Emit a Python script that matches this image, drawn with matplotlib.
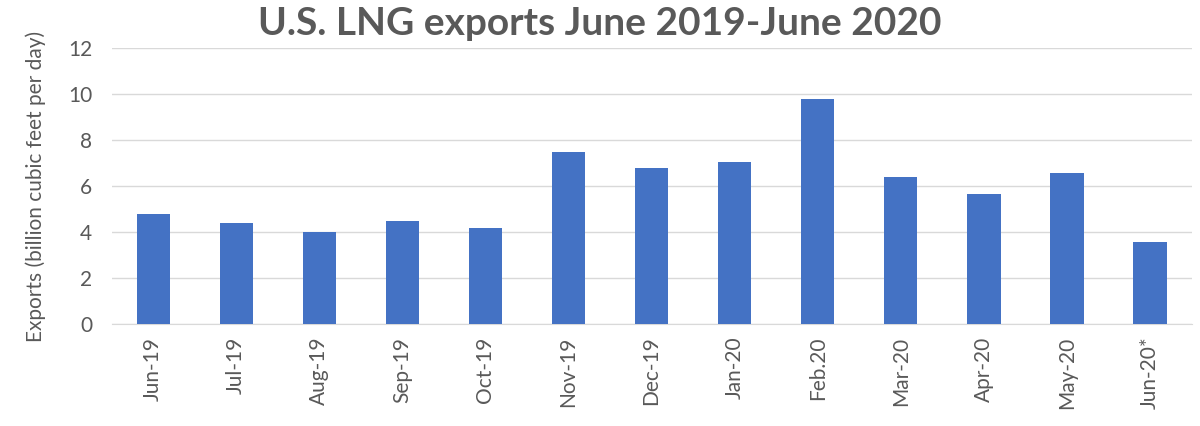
import matplotlib.pyplot as plt
import numpy as np

months = ["Jun-19", "Jul-19", "Aug-19", "Sep-19", "Oct-19", "Nov-19", "Dec-19",
          "Jan-20", "Feb.20", "Mar-20", "Apr-20", "May-20", "Jun-20*"]
exports = [4.8, 4.4, 4.0, 4.5, 4.2, 7.5, 6.8, 7.05, 9.8, 6.4, 5.66, 6.58, 3.58]

plt.rcParams['font.family'] = ['Lato', 'DejaVu Sans']

fig = plt.figure(figsize=(12, 4.26), dpi=100)
ax = fig.add_axes([0.093, 0.239, 0.9, 0.648])

x = np.arange(len(months))
ax.bar(x, exports, width=0.4, color="#4472c4", zorder=3)

ax.set_xlim(-0.5, len(months) - 0.5)
ax.set_ylim(0, 12)
ax.set_yticks(range(0, 13, 2))
ax.set_xticks(x)
ax.set_xticklabels(months, rotation=90)
ax.grid(axis='y', color="#d9d9d9", linewidth=1, zorder=0)
for s in ['top', 'right', 'left']:
    ax.spines[s].set_visible(False)
ax.spines['bottom'].set_color("#d9d9d9")
ax.tick_params(axis='both', length=0, labelsize=15, colors="#595959")
ax.tick_params(axis='x', pad=9)
ax.tick_params(axis='y', pad=14)
ax.set_ylabel("Exports (billion cubic feet per day)", fontsize=15, color="#595959", labelpad=16)

fig.suptitle("U.S. LNG exports June 2019-June 2020", x=0.5, y=0.985, fontsize=28,
             fontweight='bold', color="#595959")

fig.savefig("out.png")
